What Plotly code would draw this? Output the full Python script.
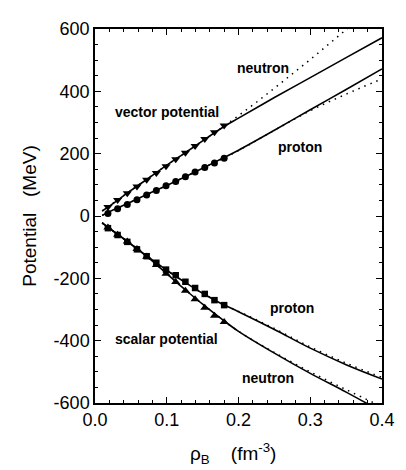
import plotly.graph_objects as go

# ---------------- data ----------------
# curve densities (fm^-3)
rho_curve = [0.01, 0.025, 0.05, 0.075, 0.1, 0.125, 0.15, 0.175, 0.2, 0.25, 0.3, 0.35, 0.4]

# vector potential (MeV)
vec_n_solid = [16, 40, 82, 122, 163, 202, 241, 280, 314, 380, 444, 508, 572]
vec_p_solid = [2, 19, 45, 72, 98, 125, 153, 182, 211, 275, 341, 406, 472]
rho_dot_v = [0.01, 0.05, 0.1, 0.15, 0.175, 0.2, 0.225, 0.25, 0.275, 0.3, 0.325, 0.35, 0.375]
vec_n_dot = [16, 82, 163, 241, 280, 322, 365, 410, 456, 502, 550, 598, 648]
rho_dot_vp = [0.01, 0.05, 0.1, 0.15, 0.2, 0.25, 0.3, 0.35, 0.4]
vec_p_dot = [2, 45, 98, 153, 210, 275, 338, 391, 440]

# scalar potential (MeV)
sca_n_solid = [-22, -48, -90, -135, -185, -235, -283, -328, -370, -440, -505, -565, -628]
sca_p_solid = [-22, -48, -90, -133, -174, -212, -248, -280, -307, -364, -424, -477, -523]
sca_n_dot = [-22, -48, -90, -135, -185, -235, -283, -328, -370, -438, -500, -557, -612]
sca_p_dot = [-22, -48, -90, -133, -174, -212, -248, -280, -306, -361, -420, -472, -518]

# symbols (data points)
rho_pts = [0.018, 0.0315, 0.045, 0.0585, 0.072, 0.0855, 0.099, 0.1125, 0.126, 0.1395, 0.153, 0.1665, 0.18]
pts_vec_n = [29, 51, 73, 95, 116, 138, 160, 182, 203, 225, 247, 269, 290]
pts_vec_p = [8, 23, 37, 52, 67, 82, 97, 111, 126, 141, 156, 170, 185]
pts_sca_p = [-39, -61, -83, -107, -129, -150, -172, -190, -211, -231, -250, -270, -286]
pts_sca_n = [-37, -60, -82, -106, -131, -157, -185, -212, -240, -267, -294, -320, -340]

x_ticks = [0.0, 0.1, 0.2, 0.3, 0.4]
x_ticklabels = ["0.0", "0.1", "0.2", "0.3", "0.4"]
y_ticks = [-600, -400, -200, 0, 200, 400, 600]
y_ticklabels = ["-600", "-400", "-200", "0", "200", "400", "600"]

labels = [
    ("neutron", 0.2348, 475),
    ("vector potential", 0.0997, 334),
    ("proton", 0.2853, 222),
    ("proton", 0.2744, -294),
    ("scalar potential", 0.0997, -394),
    ("neutron", 0.2416, -519),
]

# ---------------- figure ----------------
FONT = "Arial, Liberation Sans, Helvetica, sans-serif"
fig = go.Figure()

def line(x, y, dash="solid", width=1.6):
    fig.add_trace(go.Scatter(x=x, y=y, mode="lines", showlegend=False,
                             line=dict(color="black", width=width, dash=dash, shape="spline")))

DOT = "1.5px,5px"
line(rho_dot_v, vec_n_dot, dash=DOT, width=1.5)
line(rho_dot_vp, vec_p_dot, dash=DOT, width=1.5)
line(rho_curve, sca_n_dot, dash=DOT, width=1.5)
line(rho_curve, sca_p_dot, dash=DOT, width=1.5)
line(rho_curve, vec_n_solid)
line(rho_curve, vec_p_solid)
line(rho_curve, sca_n_solid)
line(rho_curve, sca_p_solid)

def pts(y, symbol, size=7):
    fig.add_trace(go.Scatter(x=rho_pts, y=y, mode="markers", showlegend=False,
                             marker=dict(symbol=symbol, size=size, color="black")))

pts(pts_vec_n, "triangle-down", 8)
pts(pts_vec_p, "circle", 7)
pts(pts_sca_p, "square", 6.5)
pts(pts_sca_n, "triangle-up", 8)

for txt, x, y in labels:
    fig.add_annotation(x=x, y=y, text=f"<b>{txt}</b>", showarrow=False,
                       font=dict(family=FONT, size=14, color="black"),
                       xanchor="center", yanchor="middle")

axis_common = dict(showgrid=False, zeroline=False, showline=True, linecolor="black",
                   linewidth=1.5, mirror="ticks", ticks="inside", ticklen=6,
                   tickwidth=1.2, tickcolor="black",
                   tickfont=dict(family=FONT, size=18, color="black"))

fig.update_xaxes(range=[0, 0.4], tickvals=x_ticks, ticktext=x_ticklabels,
                 minor=dict(ticks="inside", dtick=0.02, ticklen=3, tickcolor="black", tickwidth=1),
                 **axis_common)
fig.update_yaxes(range=[-600, 600], tickvals=y_ticks, ticktext=y_ticklabels,
                 minor=dict(ticks="inside", dtick=50, ticklen=3, tickcolor="black", tickwidth=1),
                 title=dict(text="Potential&nbsp;&nbsp;&nbsp;(MeV)",
                            font=dict(family=FONT, size=19, color="black"), standoff=12),
                 **axis_common)

fig.add_annotation(xref="paper", yref="paper", x=0.481, y=-0.135,
                   text="ρ<sub>B</sub>&nbsp;&nbsp;&nbsp;&nbsp;(fm<sup>-3</sup>)", showarrow=False,
                   font=dict(family=FONT, size=19, color="black"),
                   xanchor="center", yanchor="middle")

# the page body keeps an 8 px default margin, so the figure is 8 px smaller
fig.update_layout(width=398, height=462, plot_bgcolor="white", paper_bgcolor="white",
                  margin=dict(l=87, r=18, t=11, b=67), showlegend=False)

fig.write_html("out.html")
